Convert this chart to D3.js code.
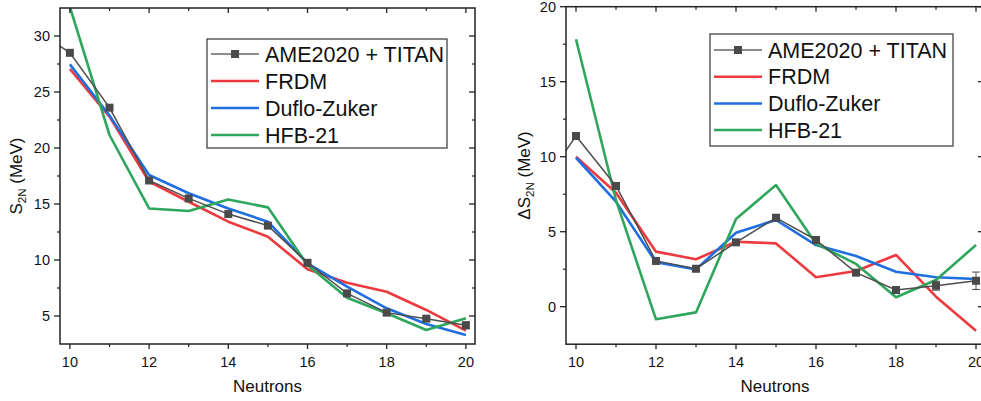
<!DOCTYPE html>
<html><head><meta charset="utf-8">
<script src="https://cdn.jsdelivr.net/npm/d3@7"></script>
<style>
body{margin:0;background:#fff}
text{font-family:"Liberation Sans",Arial,sans-serif;fill:#111}
</style>
</head><body><svg id="c" width="981" height="401"></svg>
<script>
// ---------- data ----------
const ameN = [9,10,11,12,13,14,15,16,17,18,19,20];
const modelN = [10,11,12,13,14,15,16,17,18,19,20];
const xTicks = [10,12,14,16,18,20];
const seriesNames = ["AME2020 + TITAN","FRDM","Duflo-Zuker","HFB-21"];

// S2N (MeV)
const ameS2N    = [30.9,28.5,23.6,17.1,15.5,14.1,13.07,9.75,7.02,5.3,4.76,4.17];
const ameS2NErr = [0,0,0,0,0,0,0,0,0,0,0.1,0.3];
const frdmS2N   = [27.05,22.8,17.0,15.2,13.42,12.08,9.17,7.97,7.17,5.54,3.69];
const dzS2N     = [27.47,22.9,17.59,15.96,14.6,13.42,9.7,7.62,5.69,4.29,3.3];
const hfbS2N    = [32.6,21.16,14.6,14.37,15.4,14.7,9.55,6.63,5.24,3.75,4.8];
const s2nTicks  = [5,10,15,20,25,30];

// Delta S2N (MeV)
const ameD    = [7.5,11.38,8.05,3.05,2.53,4.29,5.93,4.45,2.27,1.11,1.4,1.73];
const ameDErr = [0,0,0,0,0,0,0,0,0,0.15,0.3,0.58];
const frdmD   = [10.0,7.6,3.67,3.16,4.33,4.22,1.96,2.38,3.45,0.67,-1.6];
const dzD     = [9.93,7.0,2.96,2.49,4.93,5.78,4.11,3.38,2.33,1.96,1.85];
const hfbD    = [17.83,7.1,-0.84,-0.38,5.85,8.11,4.2,2.85,0.63,1.78,4.11];
const dTicks  = [0,5,10,15,20];

// ---------- drawing ----------
const colors = {ame:"#4d4d4d", frdm:"#ee3a3f", dz:"#1f6fe0", hfb:"#2ea65c"};
const svg = d3.select("#c");
svg.append("rect").attr("width",981).attr("height",401).attr("fill","#fff");

function panel(cfg){
  const g = svg.append("g");
  const x = d3.scaleLinear().domain(cfg.xDom).range(cfg.xR);
  const y = d3.scaleLinear().domain(cfg.yDom).range(cfg.yR);
  const [x0,x1] = cfg.xR, [y1,y0] = cfg.yR; // y0 top, y1 bottom
  const clipId = "clip"+cfg.id;
  svg.append("clipPath").attr("id",clipId).append("rect")
    .attr("x",x0).attr("y",y0).attr("width",x1-x0).attr("height",y1-y0);
  const pg = g.append("g").attr("clip-path",`url(#${clipId})`);
  const line = d3.line().x(d=>x(d[0])).y(d=>y(d[1]));
  const models = [[cfg.frdm,colors.frdm],[cfg.dz,colors.dz],[cfg.hfb,colors.hfb]];
  models.forEach(([vals,c])=>{
    pg.append("path").attr("d",line(modelN.map((n,i)=>[n,vals[i]])))
      .attr("fill","none").attr("stroke",c).attr("stroke-width",2.6).attr("stroke-linejoin","round");
  });
  const ame = ameN.map((n,i)=>[n,cfg.ame[i],cfg.err[i]]);
  pg.append("path").attr("d",line(ame)).attr("fill","none")
    .attr("stroke",colors.ame).attr("stroke-width",1.5);
  ame.filter(d=>d[2]>0).forEach(d=>{
    const cx=x(d[0]), ya=y(d[1]+d[2]), yb=y(d[1]-d[2]);
    pg.append("path").attr("d",`M${cx},${ya}V${yb}M${cx-4},${ya}H${cx+4}M${cx-4},${yb}H${cx+4}`)
      .attr("stroke",colors.ame).attr("stroke-width",1).attr("fill","none");
  });
  pg.selectAll("rect.m").data(ame).join("rect").attr("class","m")
    .attr("x",d=>x(d[0])-4).attr("y",d=>y(d[1])-4).attr("width",8).attr("height",8)
    .attr("fill","#4a4a4a");

  // axes
  const ax = g.append("g").attr("stroke","#222").attr("fill","none");
  ax.append("rect").attr("x",x0).attr("y",y0).attr("width",x1-x0).attr("height",y1-y0)
    .attr("stroke-width",1.5);
  const xMinor = d3.range(Math.ceil(cfg.xDom[0]),Math.floor(cfg.xDom[1])+1).filter(v=>!xTicks.includes(v));
  xTicks.forEach(v=>{
    const px=x(v);
    ax.append("line").attr("x1",px).attr("x2",px).attr("y1",y1).attr("y2",y1+5).attr("stroke-width",1.3);
    ax.append("line").attr("x1",px).attr("x2",px).attr("y1",y0).attr("y2",y0+5).attr("stroke-width",1.3);
    g.append("text").attr("x",px).attr("y",y1+23).attr("text-anchor","middle")
      .attr("font-size",14.5).text(v);
  });
  xMinor.forEach(v=>{
    const px=x(v);
    ax.append("line").attr("x1",px).attr("x2",px).attr("y1",y1).attr("y2",y1+3).attr("stroke-width",1.2);
    ax.append("line").attr("x1",px).attr("x2",px).attr("y1",y0).attr("y2",y0+3).attr("stroke-width",1.2);
  });
  cfg.yTicks.forEach(v=>{
    const py=y(v);
    ax.append("line").attr("x1",x0-6).attr("x2",x0).attr("y1",py).attr("y2",py).attr("stroke-width",1.3);
    ax.append("line").attr("x1",x1-6).attr("x2",x1).attr("y1",py).attr("y2",py).attr("stroke-width",1.3);
    g.append("text").attr("x",x0-10).attr("y",py).attr("dy","0.36em").attr("text-anchor","end")
      .attr("font-size",14.5).text(v);
  });
  cfg.yTicks.map(v=>v-2.5).concat([cfg.yTicks[cfg.yTicks.length-1]+2.5])
    .filter(v=>v>cfg.yDom[0] && v<cfg.yDom[1]).forEach(v=>{
    const py=y(v);
    ax.append("line").attr("x1",x0-3).attr("x2",x0).attr("y1",py).attr("y2",py).attr("stroke-width",1.2);
    ax.append("line").attr("x1",x1-3).attr("x2",x1).attr("y1",py).attr("y2",py).attr("stroke-width",1.2);
  });

  // axis labels
  g.append("text").attr("x",(x0+x1)/2).attr("y",392).attr("text-anchor","middle")
    .attr("font-size",17).text("Neutrons");
  const yl = g.append("text").attr("transform",`translate(${cfg.ylx},${(y0+y1)/2}) rotate(-90)`)
    .attr("text-anchor","middle").attr("font-size",17);
  yl.append("tspan").text(cfg.ylPre+"S");
  yl.append("tspan").attr("font-size",11.5).attr("dy",4).text("2N");
  yl.append("tspan").attr("dy",-4).text(" (MeV)");

  // legend
  const L = cfg.leg;
  const lg = g.append("g");
  lg.append("rect").attr("x",L.x).attr("y",L.y).attr("width",L.w).attr("height",L.h)
    .attr("fill","#fff").attr("stroke","#444").attr("stroke-width",1.3);
  const lc = [colors.ame,colors.frdm,colors.dz,colors.hfb];
  seriesNames.forEach((s,i)=>{
    const cy = L.y + L.r0 + i*L.dr;
    lg.append("line").attr("x1",L.x+4).attr("x2",L.x+52).attr("y1",cy).attr("y2",cy)
      .attr("stroke",i===0?"#666":lc[i]).attr("stroke-width",i===0?1.5:2.5);
    if(i===0) lg.append("rect").attr("x",L.x+24).attr("y",cy-4).attr("width",8).attr("height",8).attr("fill","#4a4a4a");
    lg.append("text").attr("x",L.x+58).attr("y",cy).attr("dy","0.36em").attr("font-size",21.5).text(s);
  });
}

panel({id:"a", xDom:[9.75,20.23], xR:[60,475], yDom:[2.5,32.5], yR:[344,8],
  ame:ameS2N, err:ameS2NErr, frdm:frdmS2N, dz:dzS2N, hfb:hfbS2N, yTicks:s2nTicks,
  ylx:22, ylPre:"", leg:{x:207,y:39,w:240,h:109,r0:15,dr:27}});
panel({id:"b", xDom:[9.75,20.2], xR:[566,984], yDom:[-2.5,20], yR:[344.2,6.7],
  ame:ameD, err:ameDErr, frdm:frdmD, dz:dzD, hfb:hfbD, yTicks:dTicks,
  ylx:530, ylPre:"\u0394", leg:{x:710,y:34,w:243,h:112,r0:16,dr:26.7}});
</script></body></html>
